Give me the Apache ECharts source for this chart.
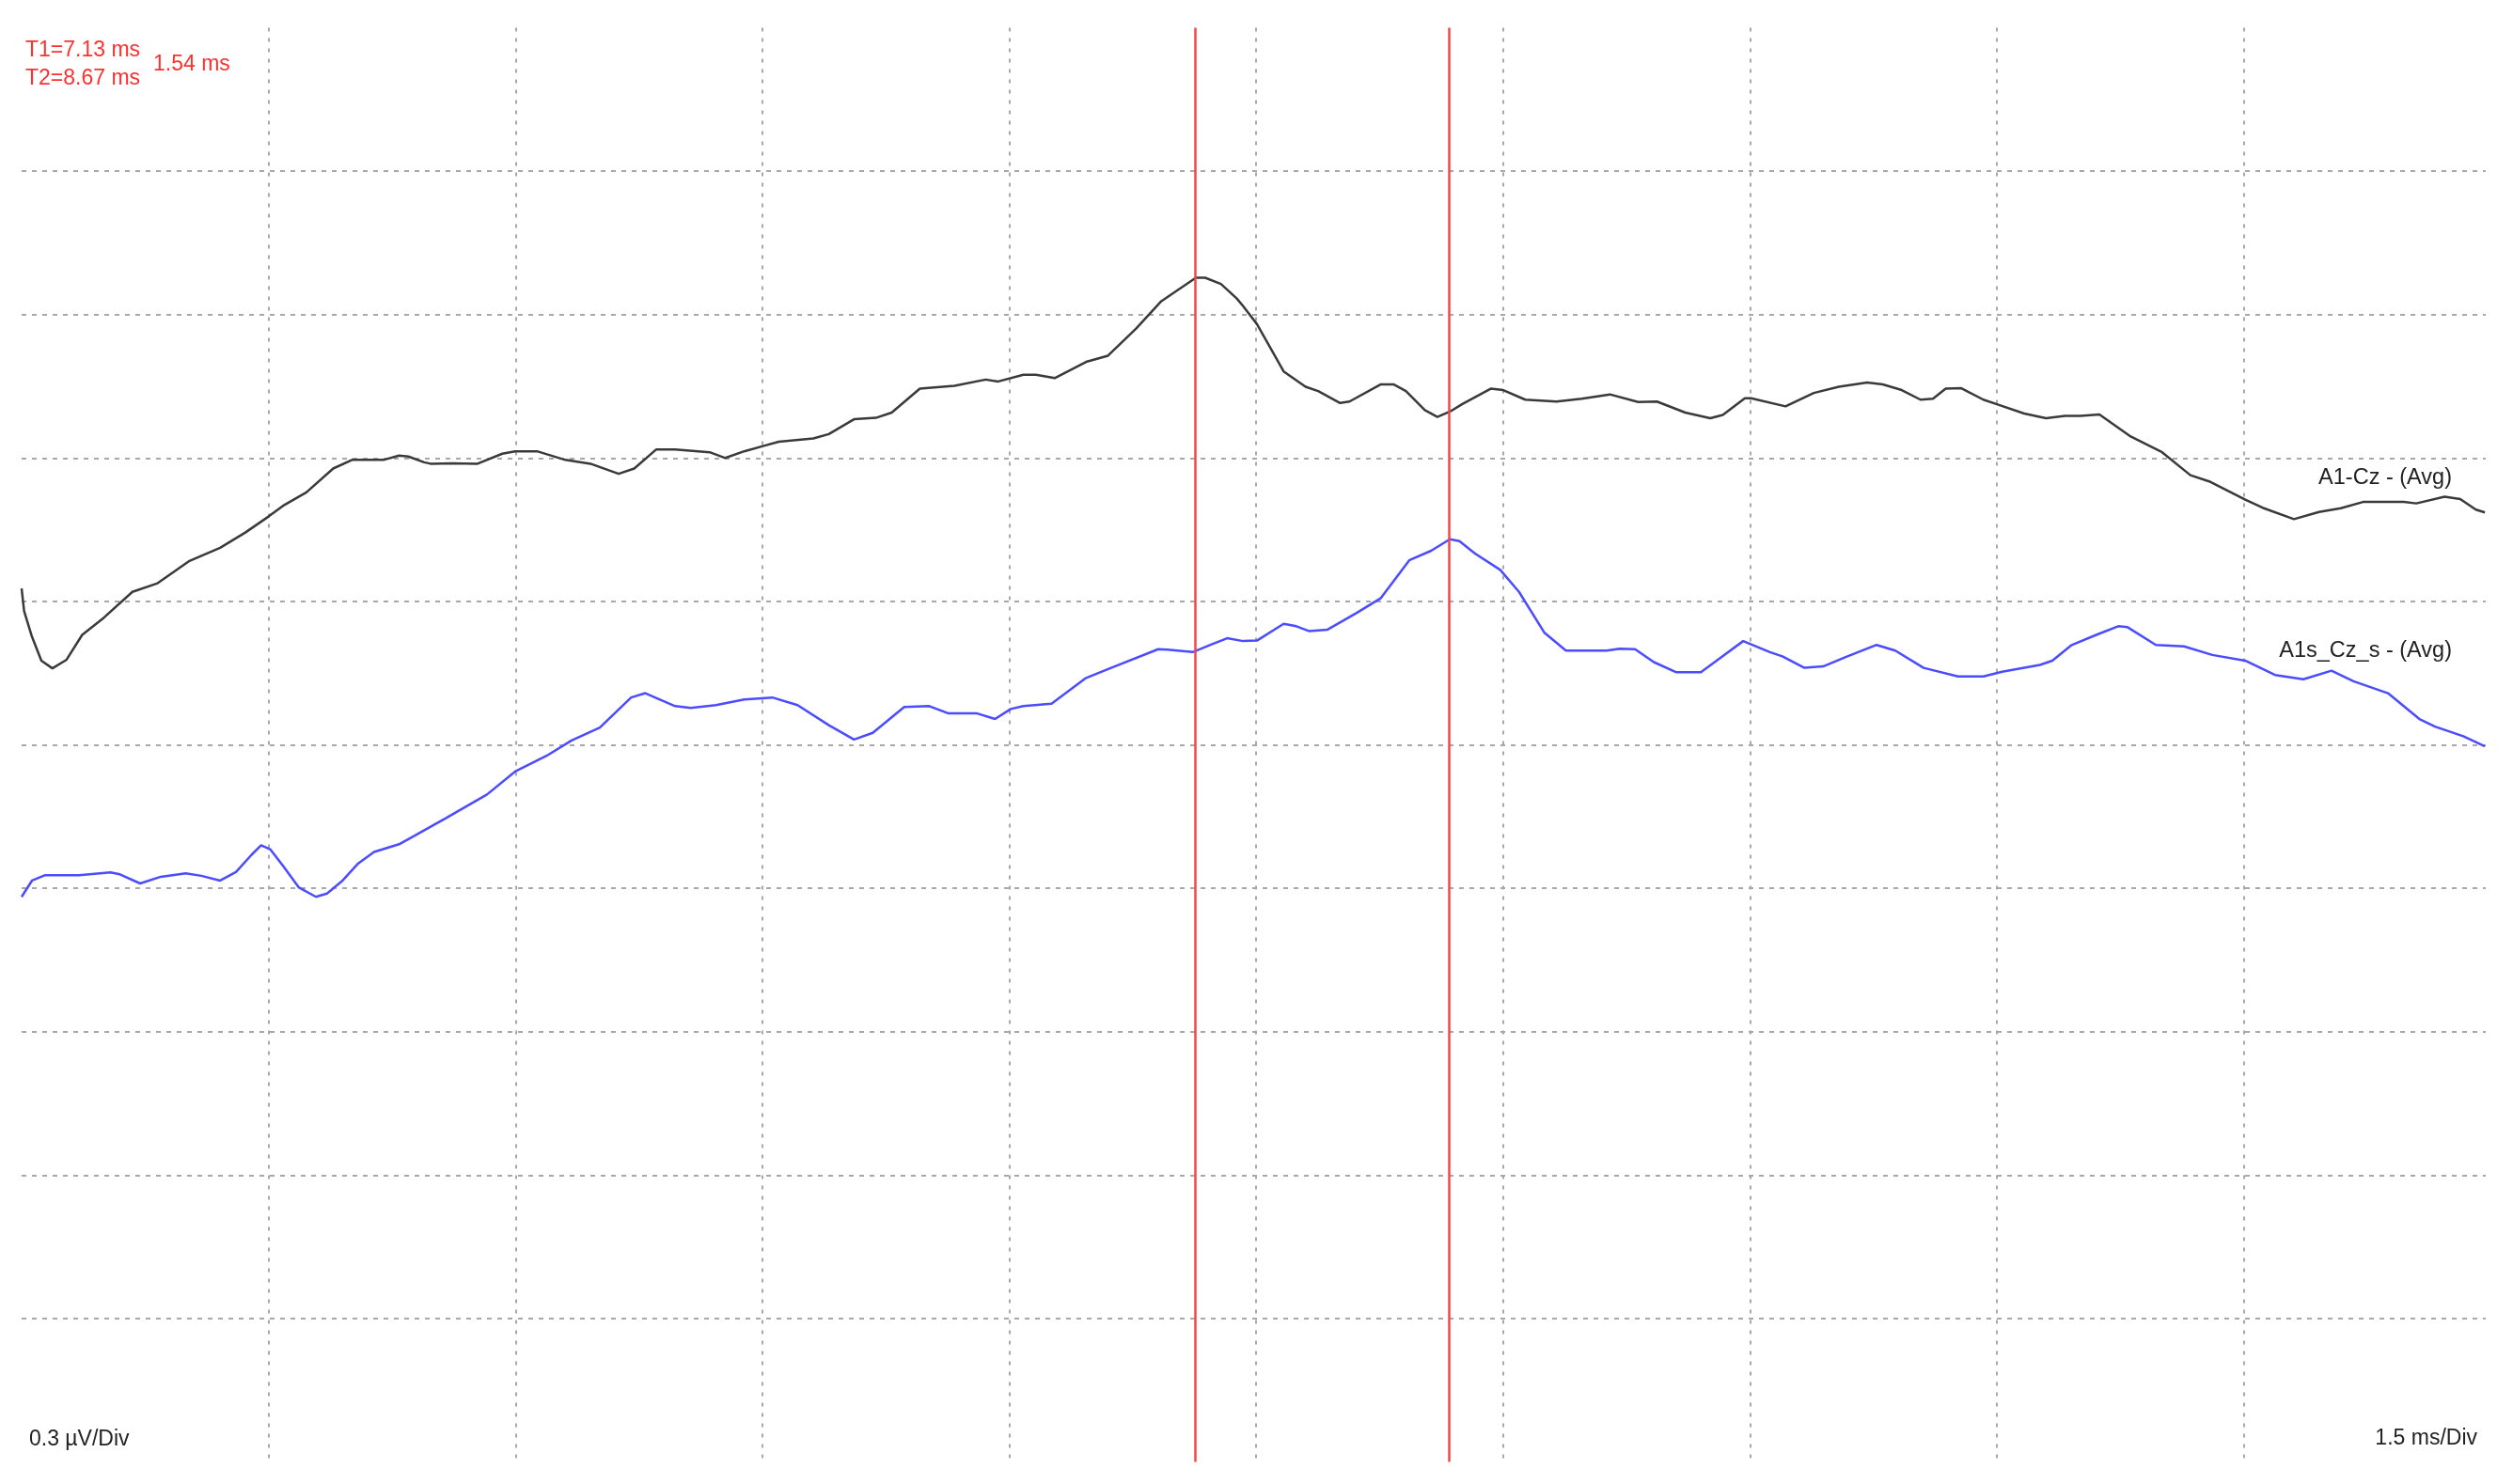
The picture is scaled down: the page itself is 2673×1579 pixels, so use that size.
<!DOCTYPE html>
<html>
<head>
<meta charset="utf-8">
<title>A1-Cz averages</title>
<script src="https://cdn.jsdelivr.net/npm/echarts@6/dist/echarts.min.js"></script>
<style>
  html, body { margin: 0; padding: 0; background: #fff; }
  #main { width: 2673px; height: 1579px; }
</style>
</head>
<body>
<div id="main"></div>
<script>
// time in ms, amplitude in µV
const a1czTime = [0, 0.015, 0.063, 0.12, 0.187, 0.273, 0.368, 0.5, 0.673, 0.826, 1.016, 1.206, 1.359, 1.502, 1.588, 1.73, 1.893, 2.007, 2.198, 2.293, 2.35, 2.445, 2.484, 2.617, 2.77, 2.92, 2.998, 3.131, 3.303, 3.456, 3.627, 3.722, 3.856, 3.97, 4.18, 4.275, 4.39, 4.504, 4.6, 4.81, 4.904, 5.057, 5.19, 5.286, 5.457, 5.667, 5.857, 5.933, 6.086, 6.162, 6.276, 6.467, 6.6, 6.772, 6.924, 7.134, 7.19, 7.286, 7.381, 7.42, 7.505, 7.667, 7.8, 7.877, 8.01, 8.067, 8.258, 8.334, 8.41, 8.525, 8.601, 8.677, 8.753, 8.925, 9.001, 9.135, 9.325, 9.478, 9.649, 9.821, 9.935, 10.107, 10.259, 10.335, 10.469, 10.507, 10.716, 10.888, 11.04, 11.212, 11.307, 11.422, 11.536, 11.612, 11.689, 11.784, 11.918, 12.013, 12.166, 12.299, 12.413, 12.509, 12.623, 12.813, 13.004, 13.176, 13.29, 13.509, 13.614, 13.805, 13.957, 14.09, 14.224, 14.472, 14.548, 14.72, 14.815, 14.91, 14.965];
const a1czValue = [0.327, 0.28, 0.226, 0.176, 0.16, 0.178, 0.23, 0.266, 0.32, 0.338, 0.384, 0.412, 0.444, 0.478, 0.5, 0.528, 0.578, 0.596, 0.596, 0.605, 0.603, 0.591, 0.588, 0.589, 0.588, 0.609, 0.614, 0.614, 0.596, 0.588, 0.567, 0.578, 0.618, 0.618, 0.612, 0.6, 0.614, 0.625, 0.634, 0.641, 0.65, 0.681, 0.684, 0.695, 0.745, 0.751, 0.764, 0.76, 0.774, 0.774, 0.767, 0.801, 0.814, 0.871, 0.928, 0.977, 0.977, 0.964, 0.934, 0.918, 0.88, 0.781, 0.749, 0.74, 0.715, 0.718, 0.754, 0.754, 0.74, 0.7, 0.686, 0.697, 0.713, 0.745, 0.742, 0.722, 0.718, 0.724, 0.733, 0.717, 0.718, 0.695, 0.683, 0.69, 0.725, 0.725, 0.708, 0.736, 0.749, 0.758, 0.754, 0.742, 0.722, 0.724, 0.745, 0.746, 0.722, 0.711, 0.693, 0.683, 0.688, 0.688, 0.691, 0.645, 0.612, 0.564, 0.551, 0.513, 0.496, 0.472, 0.487, 0.495, 0.508, 0.508, 0.505, 0.519, 0.514, 0.492, 0.486];

const a1sTime = [0, 0.063, 0.14, 0.349, 0.54, 0.597, 0.72, 0.845, 0.997, 1.092, 1.206, 1.302, 1.397, 1.455, 1.512, 1.588, 1.683, 1.788, 1.855, 1.95, 2.045, 2.141, 2.293, 2.388, 2.579, 2.827, 2.998, 3.189, 3.341, 3.513, 3.703, 3.789, 3.97, 4.065, 4.218, 4.39, 4.561, 4.714, 4.904, 5.057, 5.171, 5.362, 5.514, 5.628, 5.8, 5.914, 6.009, 6.086, 6.257, 6.467, 6.619, 6.905, 6.962, 7.115, 7.229, 7.324, 7.42, 7.505, 7.667, 7.744, 7.82, 7.934, 8.106, 8.258, 8.43, 8.563, 8.677, 8.735, 8.83, 8.983, 9.097, 9.25, 9.382, 9.63, 9.707, 9.802, 9.916, 10.05, 10.202, 10.297, 10.459, 10.621, 10.697, 10.831, 10.945, 11.078, 11.269, 11.383, 11.555, 11.764, 11.918, 12.032, 12.261, 12.337, 12.451, 12.604, 12.737, 12.794, 12.966, 13.137, 13.309, 13.509, 13.69, 13.862, 14.033, 14.167, 14.376, 14.567, 14.662, 14.834, 14.965];
const a1sValue = [-0.318, -0.284, -0.273, -0.273, -0.267, -0.271, -0.29, -0.276, -0.269, -0.274, -0.284, -0.266, -0.23, -0.21, -0.219, -0.253, -0.298, -0.318, -0.311, -0.284, -0.248, -0.224, -0.208, -0.19, -0.153, -0.104, -0.056, -0.023, 0.009, 0.036, 0.099, 0.108, 0.081, 0.077, 0.083, 0.095, 0.099, 0.083, 0.041, 0.011, 0.025, 0.079, 0.081, 0.066, 0.066, 0.054, 0.075, 0.081, 0.086, 0.14, 0.161, 0.2, 0.199, 0.194, 0.21, 0.223, 0.217, 0.218, 0.253, 0.248, 0.238, 0.241, 0.275, 0.307, 0.386, 0.406, 0.43, 0.426, 0.4, 0.366, 0.32, 0.235, 0.197, 0.197, 0.201, 0.2, 0.173, 0.152, 0.152, 0.176, 0.217, 0.194, 0.185, 0.161, 0.164, 0.183, 0.209, 0.197, 0.161, 0.143, 0.143, 0.153, 0.167, 0.176, 0.208, 0.23, 0.248, 0.246, 0.209, 0.206, 0.188, 0.176, 0.146, 0.137, 0.155, 0.133, 0.108, 0.054, 0.038, 0.018, -0.003];

// cursors
const cursorTimes = [7.13, 8.67];
const cursorLabels = ['T1=7.13 ms', 'T2=8.67 ms'];
const cursorDelta = '1.54 ms';
const seriesNames = ['A1-Cz - (Avg)', 'A1s_Cz_s - (Avg)'];
const xScaleLabel = '1.5 ms/Div';
const yScaleLabel = '0.3 µV/Div';

const pairs = (t, v) => t.map((x, i) => [x, v[i]]);
const FONT = '"Liberation Sans", Arial, sans-serif';

const chart = echarts.init(document.getElementById('main'));
chart.setOption({
  animation: false,
  backgroundColor: '#fff',
  grid: { left: 23, right: 29, top: 29.5, bottom: 23.5 },
  xAxis: {
    type: 'value', min: 0, max: 14.97, interval: 1.5,
    axisLine: { show: false }, axisTick: { show: false }, axisLabel: { show: false },
    splitLine: {
      show: true, showMinLine: false, showMaxLine: false,
      lineStyle: { color: '#a8a8a8', width: 2, type: [4, 7] }
    }
  },
  yAxis: {
    type: 'value', min: -1.5, max: 1.5, interval: 0.3,
    axisLine: { show: false }, axisTick: { show: false }, axisLabel: { show: false },
    splitLine: {
      show: true, showMinLine: false, showMaxLine: false,
      lineStyle: { color: '#a8a8a8', width: 2, type: [5, 6] }
    }
  },
  series: [
    {
      name: seriesNames[0], type: 'line', data: pairs(a1czTime, a1czValue),
      showSymbol: false, lineStyle: { color: '#3a3a3a', width: 2.5 },
      markLine: {
        silent: true, symbol: 'none', label: { show: false },
        lineStyle: { color: '#f04848', width: 2.5, type: 'solid' },
        data: cursorTimes.map(t => ({ xAxis: t }))
      },
      z: 3
    },
    {
      name: seriesNames[1], type: 'line', data: pairs(a1sTime, a1sValue),
      showSymbol: false, lineStyle: { color: '#4b4bff', width: 2.5 },
      z: 3
    }
  ],
  graphic: [
    { type: 'text', x: 27, y: 54, style: { text: cursorLabels[0], font: '23px ' + FONT, fill: '#ff3030', textVerticalAlign: 'middle' } },
    { type: 'text', x: 27, y: 84, style: { text: cursorLabels[1], font: '23px ' + FONT, fill: '#ff3030', textVerticalAlign: 'middle' } },
    { type: 'text', x: 163, y: 69, style: { text: cursorDelta, font: '23px ' + FONT, fill: '#ff3030', textVerticalAlign: 'middle' } },
    { type: 'text', x: 2608, y: 509, style: { text: seriesNames[0], font: '23.5px ' + FONT, fill: '#222', textAlign: 'right', textVerticalAlign: 'middle' } },
    { type: 'text', x: 2608, y: 693, style: { text: seriesNames[1], font: '23.5px ' + FONT, fill: '#222', textAlign: 'right', textVerticalAlign: 'middle' } },
    { type: 'text', x: 31, y: 1532, style: { text: yScaleLabel, font: '23px ' + FONT, fill: '#222', textVerticalAlign: 'middle' } },
    { type: 'text', x: 2635, y: 1531, style: { text: xScaleLabel, font: '23px ' + FONT, fill: '#222', textAlign: 'right', textVerticalAlign: 'middle' } }
  ]
});
window.onresize = function () { chart.resize(); };
</script>
</body>
</html>
